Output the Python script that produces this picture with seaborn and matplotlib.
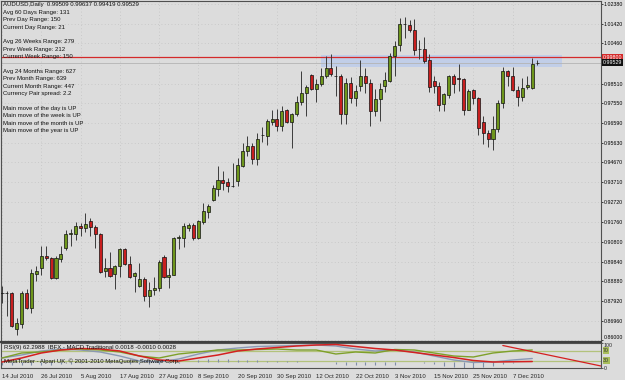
import matplotlib
matplotlib.use("Agg")
import matplotlib.pyplot as plt
import matplotlib.transforms as mtransforms
import numpy as np
import pandas as pd
import seaborn as sns

# ---------------- data (AUDUSD daily) ----------------
opens = [0.8831, 0.8831, 0.8831, 0.8655, 0.8679, 0.8831, 0.8760, 0.8924, 0.8951, 0.9010,
         0.9002, 0.8902, 0.8997, 0.9051, 0.9120, 0.9120, 0.9156, 0.9147, 0.9180, 0.9152,
         0.9120, 0.8937, 0.8953, 0.8924, 0.8963, 0.9046, 0.8973, 0.8912, 0.8863, 0.8899,
         0.8818, 0.8846, 0.8855, 0.9005, 0.8907, 0.8919, 0.9100, 0.9098, 0.9147, 0.9162,
         0.9098, 0.9177, 0.9226, 0.9286, 0.9337, 0.9381, 0.9370, 0.9351, 0.9377, 0.9451,
         0.9524, 0.9547, 0.9482, 0.9601, 0.9596, 0.9665, 0.9678, 0.9645, 0.9720, 0.9665,
         0.9703, 0.9760, 0.9806, 0.9892, 0.9825, 0.9850, 0.9890, 0.9928, 0.9890, 0.9890,
         0.9703, 0.9855, 0.9781, 0.9841, 0.9890, 0.9855, 0.9715, 0.9776, 0.9839, 0.9862,
         0.9985, 1.0037, 1.0143, 1.0135, 1.0112, 1.0018, 1.0018, 0.9964, 0.9862, 0.9838,
         0.9753, 0.9797, 0.9890, 0.9879, 0.9871, 0.9724, 0.9818, 0.9781, 0.9664, 0.9610,
         0.9580, 0.9629, 0.9757, 0.9911, 0.9887, 0.9818, 0.9786, 0.9832, 0.9828, 0.99509]
highs = [0.8867, 0.8842, 0.8834, 0.8711, 0.8842, 0.8850, 0.8948, 0.8960, 0.9062, 0.9062,
         0.9005, 0.9010, 0.9058, 0.9139, 0.9144, 0.9177, 0.9172, 0.9218, 0.9196, 0.9160,
         0.9123, 0.9002, 0.9030, 0.8965, 0.9049, 0.9049, 0.9012, 0.8935, 0.8976, 0.8907,
         0.8883, 0.8911, 0.8989, 0.9014, 0.8951, 0.9103, 0.9112, 0.9172, 0.9172, 0.9172,
         0.9185, 0.9270, 0.9262, 0.9356, 0.9451, 0.9425, 0.9389, 0.9463, 0.9487, 0.9561,
         0.9593, 0.9561, 0.9610, 0.9639, 0.9678, 0.9724, 0.9729, 0.9742, 0.9729, 0.9708,
         0.9789, 0.9911, 0.9846, 0.9899, 0.9871, 0.9928, 0.9985, 0.9997, 0.9936, 0.9895,
         0.9879, 0.9884, 0.9846, 0.9964, 0.9928, 0.9871, 0.9822, 0.9855, 0.9907, 1.0001,
         1.0058, 1.0168, 1.0173, 1.0161, 1.0165, 1.0063, 1.0080, 0.9997, 0.9890, 0.9857,
         0.9806, 0.9894, 0.9895, 0.9948, 0.9879, 0.9822, 0.9822, 0.9786, 0.9691, 0.9626,
         0.9691, 0.9773, 0.9933, 0.9916, 0.9933, 0.9841, 0.9879, 0.9890, 0.9977, 0.99637]
lows = [0.8780, 0.8720, 0.8666, 0.8627, 0.8662, 0.8752, 0.8731, 0.8888, 0.8920, 0.8992,
        0.8899, 0.8899, 0.8981, 0.9038, 0.9062, 0.9087, 0.9107, 0.9128, 0.9107, 0.9051,
        0.8927, 0.8907, 0.8907, 0.8850, 0.8907, 0.8965, 0.8902, 0.8834, 0.8858, 0.8793,
        0.8764, 0.8823, 0.8842, 0.8904, 0.8855, 0.8916, 0.9046, 0.9054, 0.9133, 0.9087,
        0.9095, 0.9165, 0.9198, 0.9279, 0.9304, 0.9332, 0.9324, 0.9345, 0.9353, 0.9446,
        0.9498, 0.9458, 0.9454, 0.9564, 0.9552, 0.9650, 0.9621, 0.9621, 0.9659, 0.9535,
        0.9691, 0.9748, 0.9694, 0.9818, 0.9760, 0.9838, 0.9879, 0.9890, 0.9792, 0.9654,
        0.9654, 0.9757, 0.9743, 0.9817, 0.9806, 0.9642, 0.9691, 0.9667, 0.9809, 0.9857,
        0.9887, 1.0009, 1.0075, 1.0102, 0.9990, 0.9969, 0.9949, 0.9810, 0.9806, 0.9715,
        0.9715, 0.9781, 0.9806, 0.9813, 0.9699, 0.9720, 0.9753, 0.9601, 0.9557, 0.9541,
        0.9528, 0.9613, 0.9732, 0.9838, 0.9813, 0.9743, 0.9764, 0.9822, 0.9822, 0.99419]
closes = [0.8832, 0.8832, 0.8671, 0.8684, 0.8831, 0.8760, 0.8927, 0.8940, 0.9010, 0.9000,
          0.8902, 0.9002, 0.9022, 0.9120, 0.9121, 0.9156, 0.9146, 0.9165, 0.9152, 0.9120,
          0.8935, 0.8953, 0.8912, 0.8963, 0.9046, 0.8973, 0.8907, 0.8929, 0.8899, 0.8814,
          0.8846, 0.8855, 0.8981, 0.8907, 0.8919, 0.9100, 0.9102, 0.9158, 0.9162, 0.9098,
          0.9180, 0.9229, 0.9255, 0.9340, 0.9381, 0.9368, 0.9351, 0.9350, 0.9454, 0.9524,
          0.9547, 0.9482, 0.9580, 0.9600, 0.9670, 0.9678, 0.9645, 0.9715, 0.9665, 0.9703,
          0.9761, 0.9806, 0.9833, 0.9822, 0.9851, 0.9890, 0.9928, 0.9899, 0.9889, 0.9703,
          0.9855, 0.9781, 0.9817, 0.9890, 0.9855, 0.9719, 0.9776, 0.9824, 0.9866, 0.9985,
          1.0034, 1.0140, 1.0142, 1.0112, 1.0014, 1.0017, 0.9960, 0.9835, 0.9838, 0.9748,
          0.9801, 0.9890, 0.9851, 0.9871, 0.9724, 0.9817, 0.9781, 0.9634, 0.9610, 0.9580,
          0.9629, 0.9757, 0.9911, 0.9887, 0.9818, 0.9786, 0.9830, 0.9845, 0.9944, 0.99529]

date_labels = ["14 Jul 2010", "26 Jul 2010", "5 Aug 2010", "17 Aug 2010", "27 Aug 2010",
               "8 Sep 2010", "20 Sep 2010", "30 Sep 2010", "12 Oct 2010", "22 Oct 2010",
               "3 Nov 2010", "15 Nov 2010", "25 Nov 2010", "7 Dec 2010"]
date_label_bars = [0, 8, 16, 24, 32, 40, 48, 56, 64, 72, 80, 88, 96, 104]

price_ticks = [1.02380, 1.01420, 1.00460, 0.98510, 0.97550, 0.96590, 0.95630, 0.94670,
               0.93710, 0.92720, 0.91760, 0.90800, 0.89840, 0.88880, 0.87920, 0.86960, 0.86000]

resistance_level = 0.99800
bid_price = 0.99529
zone_prices = [0.9931, 0.9990]
zone_bars = [65, 114]

info_lines = ["AUDUSD,Daily  0.99509 0.99637 0.99419 0.99529",
              "Avg 60 Days Range: 131", "Prev Day Range: 150", "Current Day Range: 21", "",
              "Avg 26 Weeks Range: 279", "Prev Week Range: 212", "Current Week Range: 150", "",
              "Avg 24 Months Range: 627", "Prev Month Range: 639", "Current Month Range: 447",
              "Currency Pair spread: 2.2", "",
              "Main move of the day is UP", "Main move of the week is UP",
              "Main move of the month is UP", "Main move of the year is UP"]

# indicator window (0..100 scale), sampled every 4 bars
ind_bars = [0, 4, 8, 12, 16, 20, 24, 28, 32, 36, 40, 44, 48, 52, 56, 60, 64, 68, 72, 76,
            80, 84, 88, 92, 96, 100, 104, 108]
rsi_vals = [40, 60, 64, 72, 76, 72, 64, 48, 40, 56, 64, 72, 72, 74, 76, 72, 72, 56, 64, 60,
            74, 72, 60, 48, 44, 60, 68, 72]
macd_main = [40, 52, 68, 76, 72, 64, 48, 28, 24, 36, 56, 72, 80, 86, 88, 90, 92, 88, 76, 68,
             72, 64, 48, 32, 22, 24, 32, 38]
macd_signal = [24, 40, 60, 72, 78, 76, 68, 48, 32, 28, 40, 52, 68, 76, 82, 88, 92, 94, 86, 78,
               72, 62, 52, 42, 30, 24, 25, 26]
hist_bars = list(range(0, 110, 2))
hist_vals = [12, 12, 12, 14, 14, 14, 16, 18, 20,
             24, 24, 22, 20, 18, 16, 16, 18, 20, 22, 24,
             34, 36, 36, 36, 34, 34, 32,
             30, 28, 28, 28, 26, 26, 26,
             18, 14, 12, 12, 12, 12, 14,
             26, 24, 20, 16,
             8, 4, 2, 2, 4, 8,
             18, 22, 24, 26]
hist_base = 26
rsi_levels = [70, 30]
trend_bars = [102, 122]
trend_vals = [90, 8]

# ---------------- styling ----------------
BG = "#dcdcdc"
sns.set_theme(style="white")
plt.rcParams['font.family'] = ['Liberation Sans', 'DejaVu Sans']
W, H = 625, 380
FS = 4.3
FS_AX = 3.75

fig = plt.figure(figsize=(6.25, 3.8), dpi=100, facecolor=BG)


def fx(px):
    return px / W


def fy(py):
    return 1 - py / H


ax = fig.add_axes([fx(1), fy(342), fx(600), (342 - 1) / H], facecolor=BG)
axi = fig.add_axes([fx(1), fy(368), fx(600), (368 - 343) / H], facecolor=BG)

df = pd.DataFrame({"bar": np.arange(len(opens)), "open": opens, "high": highs,
                   "low": lows, "close": closes})
df["up"] = df["close"] >= df["open"]
df["body_lo"] = df[["open", "close"]].min(axis=1)
df["body_h"] = (df["close"] - df["open"]).abs().clip(lower=0.00004)

XMIN, XMAX = -0.2, 122.0
ax.set_xlim(XMIN, XMAX)
ax.set_ylim(0.8592, 1.0253)

# grid
ax.set_xticks(date_label_bars)
ax.set_yticks(price_ticks)
ax.grid(True, color="#c3c3c3", ls=(0, (1, 3)), lw=0.6)

# zone and horizontal lines
ax.fill_between(zone_bars, zone_prices[0], zone_prices[1], color="#bfcdea", alpha=0.9,
                lw=0, zorder=1)
ax.axhline(resistance_level, color="#d42a2a", lw=0.9, zorder=1.5)
ax.axhline(bid_price, color="#b4b4b4", lw=0.6, zorder=1.4)

# candles
ax.vlines(df["bar"], df["low"], df["high"], color="#3c3c3c", lw=0.7, zorder=2)
colors = np.where(df["up"], "#6e961c", "#c81f1f")
ax.bar(df["bar"], df["body_h"], bottom=df["body_lo"], width=0.62, color=colors,
       edgecolor="#111111", linewidth=0.5, zorder=3)

# axis styling
ax.yaxis.tick_right()
ax.set_yticklabels([f"{v:.5f}" for v in price_ticks])
ax.tick_params(axis="y", labelsize=FS_AX, length=1.5, width=0.5, pad=0.6, colors="#000000",
               direction="out")
ax.tick_params(axis="x", length=0, labelbottom=False)
for s in ["top", "bottom", "left", "right"]:
    ax.spines[s].set_color("#505050")
    ax.spines[s].set_linewidth(0.8)
ax.spines["bottom"].set_linewidth(1.6)
ax.spines["bottom"].set_color("#404040")
# lowest price label sits just above the frame line
ax.get_yticklabels()[-1].set_verticalalignment("bottom")

# price flags
trans = mtransforms.blended_transform_factory(ax.transAxes, ax.transData)
ax.text(1.0035, resistance_level, f"{resistance_level:.5f}", transform=trans, ha="left",
        va="center", fontsize=FS_AX, color="white",
        bbox=dict(boxstyle="square,pad=0.15", fc="#d42a2a", ec="none"), zorder=5, clip_on=False)
ax.text(1.0035, bid_price, f"{bid_price:.5f}", transform=trans, ha="left", va="center",
        fontsize=FS_AX, color="white",
        bbox=dict(boxstyle="square,pad=0.15", fc="#101010", ec="none"), zorder=5, clip_on=False)

# info text
for i, line in enumerate(info_lines):
    if line:
        fig.text(fx(3), fy(4.8 + i * 7.4), line, fontsize=FS, va="center", ha="left",
                 color="#111111")

# ---------------- indicator window ----------------
axi.set_xlim(XMIN, XMAX)
axi.set_ylim(0, 100)
ind_df = pd.DataFrame({"bar": ind_bars, "rsi": rsi_vals, "main": macd_main,
                       "signal": macd_signal})
for lv in rsi_levels:
    axi.axhline(lv, color="#b3c27c", lw=0.9, zorder=1)
axi.vlines(hist_bars, hist_base, hist_vals, color="#7f8ea8", lw=0.8, zorder=2)
sns.lineplot(data=ind_df, x="bar", y="main", ax=axi, color="#8a98b4", lw=1.0, zorder=3)
sns.lineplot(data=ind_df, x="bar", y="rsi", ax=axi, color="#7ea02a", lw=1.0, zorder=4)
sns.lineplot(data=ind_df, x="bar", y="signal", ax=axi, color="#d42020", lw=1.1, zorder=5)
axi.plot(trend_bars, trend_vals, color="#d42020", lw=0.9, zorder=5, clip_on=True)
axi.set_xlabel("")
axi.set_ylabel("")
axi.yaxis.tick_right()
axi.set_yticks([0, 100])
axi.set_yticklabels(["0", "100"])
axi.tick_params(axis="y", labelsize=FS_AX, length=1.5, width=0.5, pad=0.6, direction="out")
axi.get_yticklabels()[-1].set_verticalalignment("top")
axi.set_xticks(date_label_bars)
axi.set_xticklabels(date_labels, ha="left")
axi.tick_params(axis="x", labelsize=FS, length=2, width=0.5, pad=2.5, direction="out")
for s in ["top", "bottom", "left", "right"]:
    axi.spines[s].set_color("#505050")
    axi.spines[s].set_linewidth(0.8)
transi = mtransforms.blended_transform_factory(axi.transAxes, axi.transData)
for lv in rsi_levels:
    axi.text(1.0035, lv, f"{lv}", transform=transi, ha="left", va="center", fontsize=FS_AX,
             color="#303030", bbox=dict(boxstyle="square,pad=0.1", fc="#a8bd5a", ec="none"),
             clip_on=False)

fig.text(fx(4), fy(348), "RSI(9) 62.2988  IBFX - MACD Traditional 0.0018 -0.0010 0.0028",
         fontsize=FS, va="center", ha="left", color="#111111")
fig.text(fx(4), fy(361.5), "MetaTrader - Alpari UK, \u00a9 2001-2010 MetaQuotes Software Corp.",
         fontsize=FS, va="center", ha="left", color="#111111")

fig.savefig("out.png", dpi=100, facecolor=BG)
